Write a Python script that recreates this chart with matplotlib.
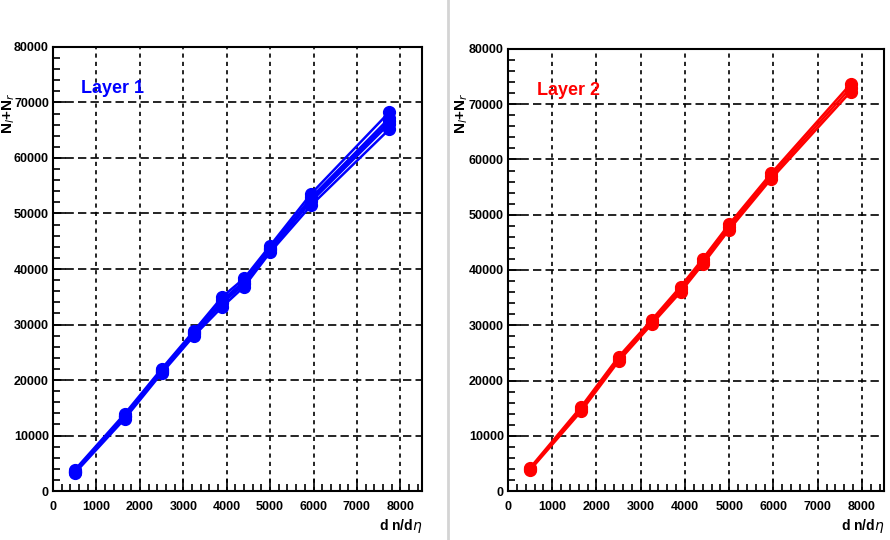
import numpy as np
import matplotlib.pyplot as plt
from matplotlib.ticker import MultipleLocator
from matplotlib.lines import Line2D

plt.rcParams['font.family'] = ['Liberation Sans Narrow', 'Liberation Sans', 'DejaVu Sans']

# multiplicity points (dn/deta)
dndeta = [500, 1650, 2500, 3250, 3900, 4400, 5000, 5950, 7750]

# Layer 1: one curve per set of cluster counts
layer1_a = [3200, 13000, 21200, 28000, 33200, 36800, 43000, 51500, 65200]
layer1_b = [3400, 13300, 21500, 28300, 33800, 37300, 43400, 52200, 66200]
layer1_c = [3600, 13600, 21800, 28600, 34400, 37800, 43800, 52900, 67200]
layer1_d = [3800, 13900, 22000, 28900, 35000, 38300, 44200, 53600, 68300]
layer1_e = [3500, 13500, 21600, 28400, 34100, 37500, 43600, 52600, 66700]

# Layer 2
layer2_a = [3800, 14400, 23500, 30200, 36000, 41000, 47300, 56500, 72300]
layer2_b = [4000, 14800, 23900, 30600, 36500, 41500, 47800, 57000, 73000]
layer2_c = [4200, 15200, 24300, 31000, 37000, 42000, 48300, 57500, 73700]

panels = [
    ("Layer 1", "#0000ff", [layer1_a, layer1_b, layer1_c, layer1_d, layer1_e],
     [0.0596, 0.0907, 0.4146, 0.8223], 0.0095),
    ("Layer 2", "#ff0000", [layer2_a, layer2_b, layer2_c],
     [0.5708, 0.0907, 0.4225, 0.8186], 0.519),
]

fig = plt.figure(figsize=(8.9, 5.4), dpi=100)
fig.patch.set_facecolor('white')

# thin separator between the two pads
fig.add_artist(Line2D([0.503, 0.503], [0.0, 1.0], transform=fig.transFigure,
                      color='#d4d4d4', lw=2))

for name, color, curves, rect, ytitle_x in panels:
    ax = fig.add_axes(rect)
    for y in curves:
        ax.plot(dndeta, y, color=color, lw=1.8, marker='o', markersize=8.5,
                markeredgecolor=color, zorder=3)

    ax.set_xlim(0, 8500)
    ax.set_ylim(0, 80000)
    ax.xaxis.set_major_locator(MultipleLocator(1000))
    ax.xaxis.set_minor_locator(MultipleLocator(200))
    ax.yaxis.set_major_locator(MultipleLocator(10000))
    ax.yaxis.set_minor_locator(MultipleLocator(2000))
    ax.tick_params(which='both', direction='in', top=False, right=False,
                   labelsize=9, width=1.2, pad=3)
    ax.tick_params(axis='x', which='both', pad=7)
    ax.tick_params(which='major', length=9)
    ax.tick_params(which='minor', length=5)

    # grid: dotted verticals, dashed horizontals
    for xv in range(1000, 8001, 1000):
        ax.axvline(xv, color='black', lw=1.2, ls=(0, (2.5, 2.5)), zorder=1)
    for yv in range(10000, 70001, 10000):
        ax.axhline(yv, color='black', lw=1.2, ls=(0, (5, 2.5)), zorder=1)

    for sp in ax.spines.values():
        sp.set_linewidth(1.5)

    for lbl in ax.get_xticklabels() + ax.get_yticklabels():
        lbl.set_fontweight('bold')

    ax.text(650, 72500, name, color=color, fontsize=13, fontweight='bold',
            va='center', ha='left')
    ax.set_xlabel(r'd n/d$\eta$', fontsize=10, fontweight='bold', loc='right',
                  labelpad=3)
    fig.text(ytitle_x, 0.79, r'N$_l$+N$_r$', rotation=90, fontsize=11,
             fontweight='bold', ha='center', va='center')

fig.savefig('out.png', dpi=100)
